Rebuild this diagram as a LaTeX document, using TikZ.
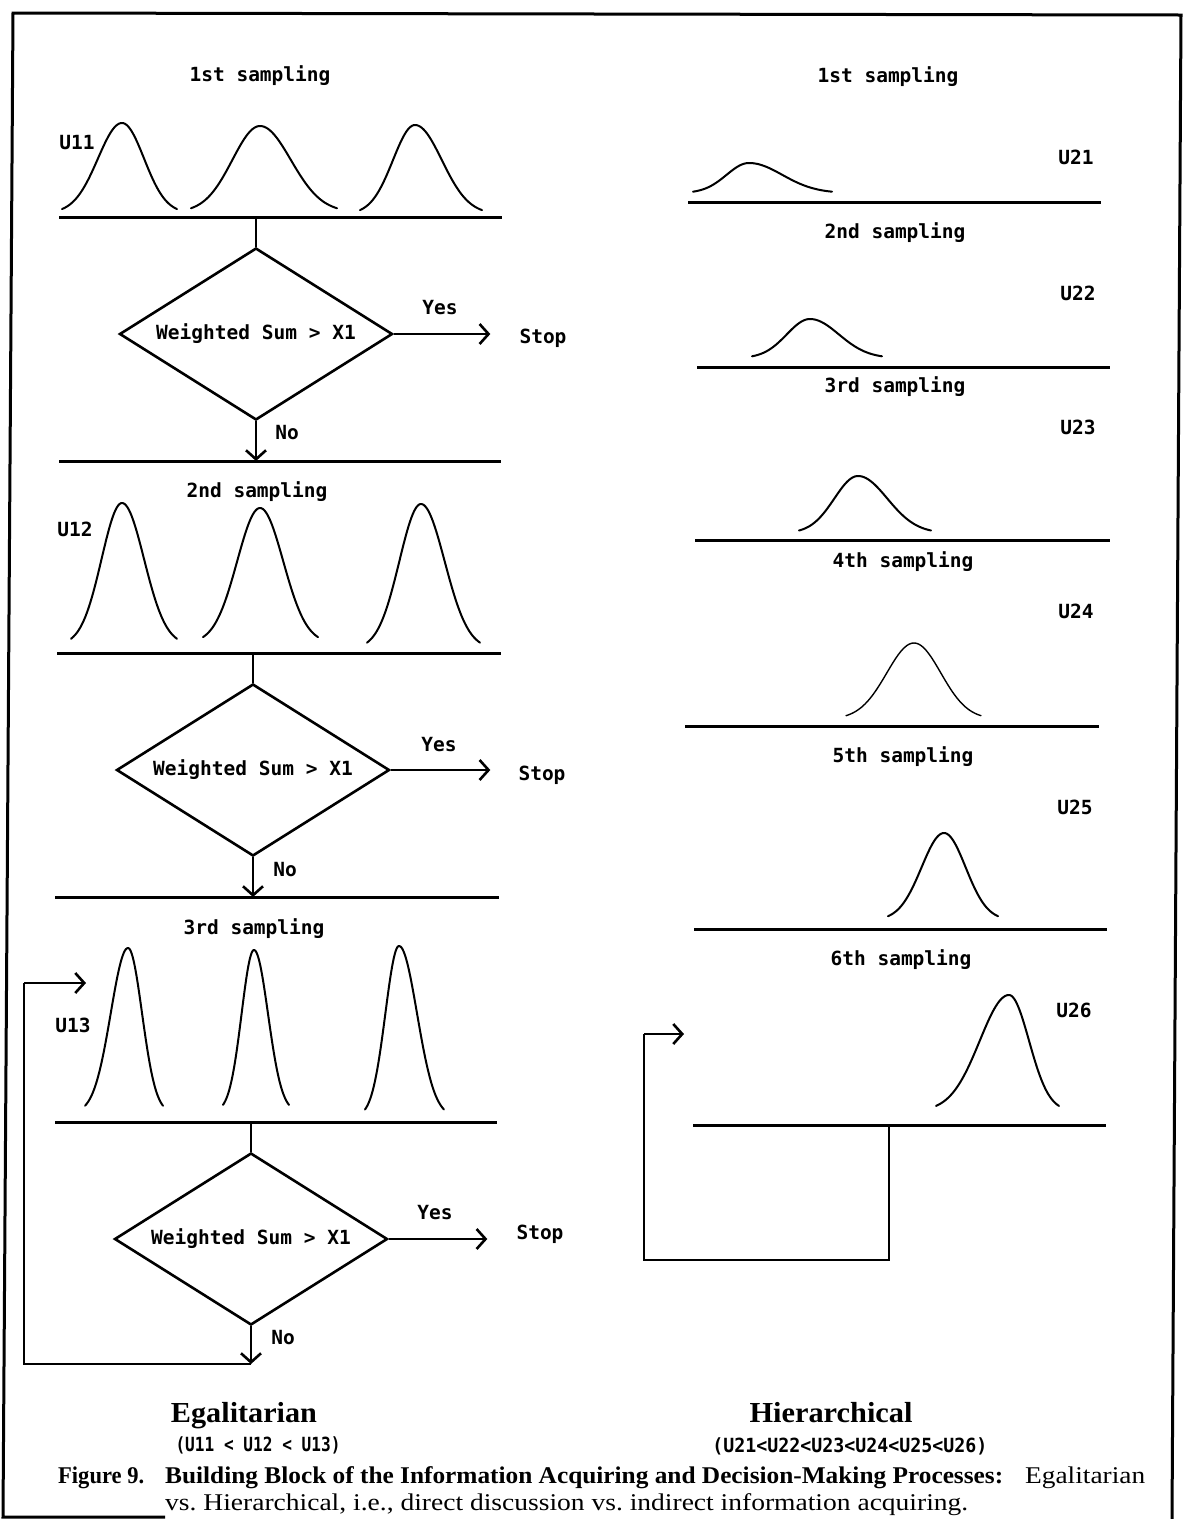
\documentclass[tikz,border=0pt]{standalone}
\usepackage{fontspec}
\usepackage{graphicx}
\setmainfont{Liberation Serif}
\newfontfamily\labfont{DejaVu Sans Mono}
\usetikzlibrary{shapes.geometric,arrows.meta}
\newcommand\fitw[2]{\resizebox{#1}{\height}{#2}}
% \bellcurve[opts]{left}{peak x}{right}{top y}{foot y}
\newcommand\bellcurve[6][]{%
  \draw[bellline,#1] plot[domain=#2:#3,samples=40] (\x,{#6-(#6-#5)*exp(-3.125*((\x-#3)/(#3-#2))*((\x-#3)/(#3-#2)))})
   -- plot[domain=#3:#4,samples=40] (\x,{#6-(#6-#5)*exp(-3.125*((\x-#3)/(#4-#3))*((\x-#3)/(#4-#3)))});}
\tikzset{
  lbl/.style={font=\labfont\bfseries\fontsize{19.5}{21}\selectfont, inner sep=0pt},
  dia/.style={diamond, draw, line width=2.6pt, shape aspect=1.59, minimum width=273pt, minimum height=172pt, inner sep=0pt,
              font=\labfont\bfseries\fontsize{19.5}{21}\selectfont},
  hline/.style={line width=3pt},
  conn/.style={line width=2.6pt},
  arr/.style={conn, -{Straight Barb[length=9pt,width=20pt]}},
  bellline/.style={line width=2pt, line join=round, line cap=round},
  outerframe/.style={line width=3pt, line join=miter},
  head/.style={font=\bfseries\fontsize{29}{32}\selectfont, inner sep=0pt, anchor=base},
  capt/.style={font=\fontsize{24}{28}\selectfont\frenchspacing, inner sep=0pt, anchor=base west},
}
\begin{document}
\begin{tikzpicture}[x=1pt,y=-1pt]
\useasboundingbox (0,0) rectangle (1186,1519);
% frame
\draw[outerframe] (165,1517) -- (3,1517) -- (13,13) -- (1181,15) -- (1172,1519);

% ================= Left column (Egalitarian) =================
\node[lbl] (s1) at (260,76) {1st sampling};
\node[lbl] (u11) at (77,143) {U11};
\bellcurve{62}{122}{177}{123}{213}
\bellcurve{191}{260}{337}{126}{212}
\bellcurve{360}{415}{482}{125}{214}
\coordinate (b1a) at (59,217); \coordinate (b1b) at (502,217);
\draw[hline] (b1a) -- (b1b);
\coordinate (t1) at (256,217);
\node[dia] (d1) at (256,334) {Weighted Sum > X1};
\draw[conn] (t1) -- (d1.north);
\node[lbl] (yes1) at (440,308) {Yes};
\node[lbl] (stop1) at (543,338) {Stop};
\draw[arr] (d1.east) -- ([xshift=-29pt]stop1.west |- d1.east);
\node[lbl] (no1) at (287,433) {No};
\coordinate (b2a) at (59,461); \coordinate (b2b) at (501,461);
\draw[hline] (b2a) -- (b2b);
\coordinate (e1) at (256,461);
\draw[arr] (d1.south) -- (e1);

\node[lbl] (s2) at (257,492) {2nd sampling};
\node[lbl] (u12) at (75,529) {U12};
\bellcurve{71}{122}{177}{503}{645}
\bellcurve{203}{260}{318}{508}{643}
\bellcurve{367}{421}{480}{504}{649}
\coordinate (b3a) at (57,653); \coordinate (b3b) at (501,653);
\draw[hline] (b3a) -- (b3b);
\coordinate (t2) at (253,653);
\node[dia] (d2) at (253,770) {Weighted Sum > X1};
\draw[conn] (t2) -- (d2.north);
\node[lbl] (yes2) at (439,745) {Yes};
\node[lbl] (stop2) at (542,775) {Stop};
\draw[arr] (d2.east) -- ([xshift=-28pt]stop2.west |- d2.east);
\node[lbl] (no2) at (285,870) {No};
\coordinate (b4a) at (55,897); \coordinate (b4b) at (499,897);
\draw[hline] (b4a) -- (b4b);
\coordinate (e2) at (253,897);
\draw[arr] (d2.south) -- (e2);

\node[lbl] (s3) at (254,929) {3rd sampling};
\node[lbl] (u13) at (73,1025) {U13};
\bellcurve{85}{128}{163}{948}{1113}
\bellcurve{223}{254}{289}{950}{1112}
\bellcurve{365}{399}{444}{946}{1117}
\coordinate (b5a) at (55,1122); \coordinate (b5b) at (497,1122);
\draw[hline] (b5a) -- (b5b);
\coordinate (t3) at (251,1122);
\node[dia] (d3) at (251,1239) {Weighted Sum > X1};
\draw[conn] (t3) -- (d3.north);
\node[lbl] (yes3) at (435,1213) {Yes};
\node[lbl] (stop3) at (540,1234) {Stop};
\draw[arr] (d3.east) -- ([xshift=-29pt]stop3.west |- d3.east);
\node[lbl] (no3) at (283,1338) {No};
\coordinate (e3) at (251,1364);
\draw[arr] (d3.south) -- (e3);
\coordinate (loopA) at (24,1364);
\coordinate (loopB) at (24,983);
\coordinate (loopT) at (86,983);
\draw[conn] (e3) -- (loopA) -- (loopB);
\draw[arr] (loopB) -- (loopT);

% ================= Right column (Hierarchical) =================
\node[lbl] (r1) at (888,77) {1st sampling};
\node[lbl] (u21) at (1076,157) {U21};
\bellcurve{693}{749}{832}{163}{193}
\coordinate (c1a) at (688,202); \coordinate (c1b) at (1101,202);
\draw[hline] (c1a) -- (c1b);

\node[lbl] (r2) at (895,233) {2nd sampling};
\node[lbl] (u22) at (1078,293) {U22};
\bellcurve{752}{810}{882}{319}{358}
\coordinate (c2a) at (697,367); \coordinate (c2b) at (1110,367);
\draw[hline] (c2a) -- (c2b);

\node[lbl] (r3) at (895,387) {3rd sampling};
\node[lbl] (u23) at (1078,427) {U23};
\bellcurve{799}{858}{931}{476}{533}
\coordinate (c3a) at (695,540); \coordinate (c3b) at (1110,540);
\draw[hline] (c3a) -- (c3b);

\node[lbl] (r4) at (903,562) {4th sampling};
\node[lbl] (u24) at (1076,611) {U24};
\bellcurve[line width=1.4pt]{846}{914}{981}{643}{719}
\coordinate (c4a) at (685,726); \coordinate (c4b) at (1099,726);
\draw[hline] (c4a) -- (c4b);

\node[lbl] (r5) at (903,757) {5th sampling};
\node[lbl] (u25) at (1075,807) {U25};
\bellcurve{888}{944}{998}{833}{920}
\coordinate (c5a) at (694,929); \coordinate (c5b) at (1107,929);
\draw[hline] (c5a) -- (c5b);

\node[lbl] (r6) at (901,960) {6th sampling};
\node[lbl] (u26) at (1074,1010) {U26};
\bellcurve{936}{1009}{1059}{995}{1111}
\coordinate (c6a) at (693,1125); \coordinate (c6b) at (1106,1125);
\draw[hline] (c6a) -- (c6b);
\coordinate (rt) at (889,1125);
\coordinate (rA) at (889,1260);
\coordinate (rB) at (644,1260);
\coordinate (rC) at (644,1034);
\coordinate (rT) at (684,1034);
\draw[conn] (rt) -- (rA) -- (rB) -- (rC);
\draw[arr] (rC) -- (rT);

% ================= Bottom texts =================
\node[head] (egal) at (244,1422) {\fitw{146pt}{Egalitarian}};
\node[lbl] (egalsub) at (258,1445) {\fitw{165pt}{(U11 < U12 < U13)}};
\node[head] (hier) at (831,1422) {\fitw{163pt}{Hierarchical}};
\node[lbl] (hiersub) at (850,1446) {\fitw{275pt}{(U21<U22<U23<U24<U25<U26)}};

\node[capt] (fig) at (58,1483) {\fitw{86pt}{\bfseries Figure 9.}};
\node[capt] (cap1) at (165,1483) {\fitw{838pt}{\bfseries Building Block of the Information Acquiring and Decision-Making Processes:}};
\node[capt] (cap1b) at (1025,1483) {\fitw{120pt}{Egalitarian}};
\node[capt] (cap2) at (165,1510) {\fitw{803pt}{vs. Hierarchical, i.e., direct discussion vs. indirect information acquiring.}};
\end{tikzpicture}
\end{document}
